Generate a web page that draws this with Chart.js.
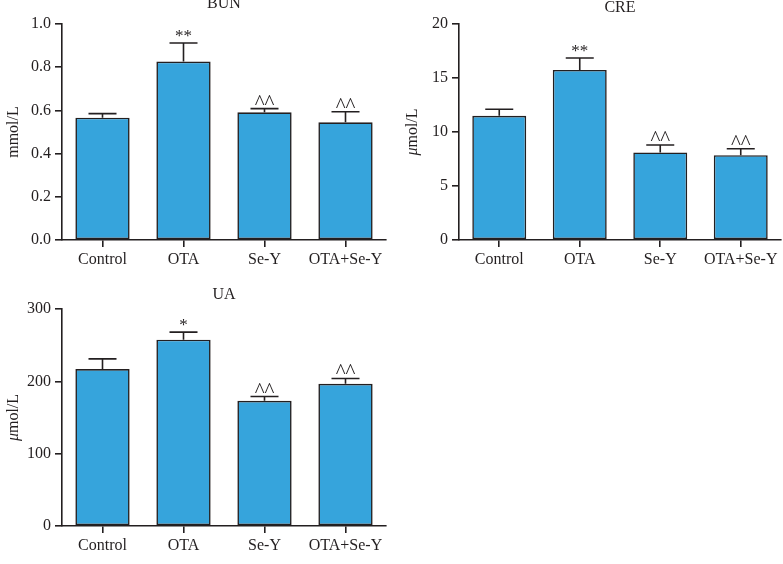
<!DOCTYPE html>
<html>
<head>
<meta charset="utf-8">
<script src="https://cdn.jsdelivr.net/npm/chart.js@4.4.1/dist/chart.umd.min.js"></script>
<style>
  html, body { margin: 0; padding: 0; background: #fff; }
  #wrap { position: relative; width: 783px; height: 564px; overflow: hidden; }
  canvas { position: absolute; }
</style>
</head>
<body>
<div id="wrap">
  <canvas id="bun" width="391" height="270" style="left:0;top:0"></canvas>
  <canvas id="cre" width="392" height="270" style="left:391px;top:0"></canvas>
  <canvas id="ua" width="391" height="294" style="left:0;top:270px"></canvas>
</div>
<script>
const groups = ["Control", "OTA", "Se-Y", "OTA+Se-Y"];

const bunMean = [0.566, 0.826, 0.591, 0.545];
const bunErrTop = [0.585, 0.912, 0.608, 0.594];
const bunMarks = ["", "**", "^^", "^^"];

const creMean = [11.5, 15.75, 8.1, 7.85];
const creErrTop = [12.1, 16.85, 8.8, 8.45];
const creMarks = ["", "**", "^^", "^^"];

const uaMean = [217, 257.5, 173, 196.5];
const uaErrTop = [231, 268, 179, 204];
const uaMarks = ["", "*", "^^", "^^"];

const ink = "#231f20";
const barFill = "#36a4dc";
const serif = "'Liberation Serif', 'DejaVu Serif', serif";

// draw text so that its visible ink is centred on (x, y)
function inkCentred(ctx, text, x, y) {
  ctx.textBaseline = "alphabetic";
  ctx.textAlign = "center";
  const m = ctx.measureText(text);
  const mid = (m.actualBoundingBoxAscent - m.actualBoundingBoxDescent) / 2;
  ctx.fillText(text, x, y + mid);
}

function makePanel(id, cfg) {
  const extras = {
    id: "extras",
    afterDatasetsDraw(chart) {
      const ctx = chart.ctx;
      const meta = chart.getDatasetMeta(0);
      const y = chart.scales.y;
      ctx.save();
      ctx.strokeStyle = ink;
      ctx.lineWidth = 1.6;
      ctx.fillStyle = ink;
      cfg.mean.forEach((v, i) => {
        const x = meta.data[i].x;
        const top = y.getPixelForValue(v);
        const e = y.getPixelForValue(cfg.errTop[i]);
        ctx.beginPath();
        ctx.moveTo(x, top);
        ctx.lineTo(x, e);
        ctx.moveTo(x - 14, e);
        ctx.lineTo(x + 14, e);
        ctx.stroke();
        const mark = cfg.marks[i];
        if (mark) {
          if (mark.includes("*")) {
            ctx.font = "17px " + serif;
            inkCentred(ctx, mark, x, e - 10);
          } else {
            ctx.font = "21px " + serif;
            inkCentred(ctx, mark, x, e - 9);
          }
        }
      });
      ctx.restore();
    },
    afterDraw(chart) {
      const ctx = chart.ctx;
      const area = chart.chartArea;
      ctx.save();
      ctx.fillStyle = ink;
      ctx.textBaseline = "middle";
      ctx.textAlign = "center";
      ctx.font = "16px " + serif;
      ctx.fillText(cfg.title, (area.left + area.right) / 2, area.top - cfg.titleGap);

      // rotated y-axis label, with italic mu where needed
      ctx.translate(cfg.labelX, (area.top + area.bottom) / 2);
      ctx.rotate(-Math.PI / 2);
      ctx.font = "16px " + serif;
      const restW = ctx.measureText(cfg.unit).width;
      let muW = 0;
      if (cfg.mu) {
        ctx.font = "italic 16px " + serif;
        muW = ctx.measureText("\u03bc").width;
      }
      const start = -(restW + muW) / 2;
      ctx.textAlign = "left";
      if (cfg.mu) {
        ctx.font = "italic 16px " + serif;
        ctx.fillText("\u03bc", start, 0);
      }
      ctx.font = "16px " + serif;
      ctx.fillText(cfg.unit, start + muW, 0);
      ctx.restore();
    }
  };

  return new Chart(document.getElementById(id), {
    type: "bar",
    data: {
      labels: groups,
      datasets: [{
        data: cfg.mean,
        backgroundColor: barFill,
        borderColor: ink,
        borderWidth: 1.6,
        borderSkipped: false,
        barPercentage: 0.67,
        categoryPercentage: 1
      }]
    },
    options: {
      responsive: false,
      animation: false,
      devicePixelRatio: 1,
      layout: { padding: { top: cfg.padTop, right: cfg.padRight, left: 0, bottom: 0 } },
      plugins: { legend: { display: false }, tooltip: { enabled: false }, title: { display: false } },
      scales: {
        x: {
          grid: { display: true, drawOnChartArea: false, drawTicks: true, tickLength: 7, offset: false, color: ink, lineWidth: 1.6 },
          border: { display: true, color: ink, width: 1.6 },
          ticks: { color: ink, font: { family: serif, size: 16 }, padding: 3, maxRotation: 0, autoSkip: false },
          afterFit(scale) { scale.height = cfg.axisH; }
        },
        y: {
          min: 0,
          max: cfg.max,
          grid: { display: true, drawOnChartArea: false, drawTicks: true, tickLength: 7, color: ink, lineWidth: 1.6 },
          border: { display: true, color: ink, width: 1.6 },
          ticks: {
            stepSize: cfg.step,
            color: ink,
            font: { family: serif, size: 16 },
            padding: 4,
            callback: v => Number(v).toFixed(cfg.decimals)
          },
          afterFit(scale) { scale.width = cfg.axisW; }
        }
      }
    },
    plugins: [extras]
  });
}

makePanel("bun", {
  title: "BUN", unit: "mmol/L", mu: false,
  mean: bunMean, errTop: bunErrTop, marks: bunMarks,
  max: 1, step: 0.2, decimals: 1,
  axisW: 62, axisH: 30, padTop: 24, padRight: 5, titleGap: 20, labelX: 14
});

makePanel("cre", {
  title: "CRE", unit: "mol/L", mu: true,
  mean: creMean, errTop: creErrTop, marks: creMarks,
  max: 20, step: 5, decimals: 0,
  axisW: 68, axisH: 30, padTop: 24, padRight: 2, titleGap: 16, labelX: 22
});

makePanel("ua", {
  title: "UA", unit: "mol/L", mu: true,
  mean: uaMean, errTop: uaErrTop, marks: uaMarks,
  max: 300, step: 100, decimals: 0,
  axisW: 62, axisH: 38, padTop: 39, padRight: 5, titleGap: 14, labelX: 14
});
</script>
</body>
</html>
